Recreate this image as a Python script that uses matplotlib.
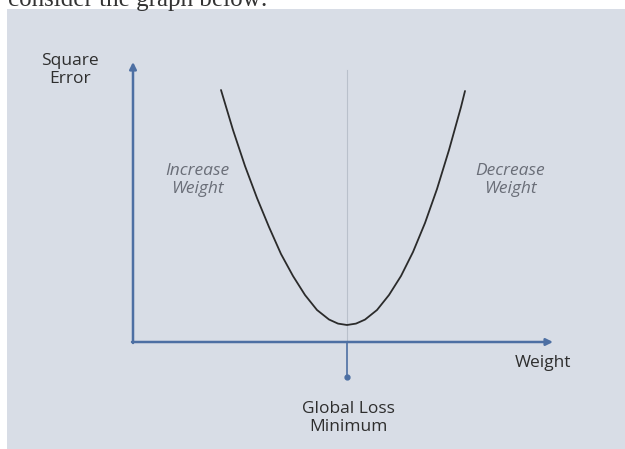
"""Square error vs weight sketch (global loss minimum)."""
import matplotlib
matplotlib.use('Agg')
import matplotlib.pyplot as plt
from matplotlib.patches import Rectangle

# curve: weight offset vs error height (pixel-like units)
weight = [88, 100, 112, 124, 136, 148, 160, 172, 184, 196, 205, 214,
          223, 232, 244, 256, 268, 280, 292, 304, 316, 328, 332]
error = [252, 212, 176, 144, 115, 88, 66, 47, 32, 22.5, 18.4, 17,
         18.4, 22.4, 32, 47, 66, 90, 119, 153, 192, 235, 251]
min_weight = 214
x_axis_end = 420
y_axis_end = 280

BLUE = '#4d6fa3'
PANEL = '#d8dde6'
TEXT = '#2e2e2e'
SIDE = '#6a6e78'

plt.rcParams['font.family'] = ['Open Sans', 'DejaVu Sans']

fig = plt.figure(figsize=(6.25, 4.49), dpi=100)
ax = fig.add_axes([0, 0, 1, 1])
ax.set_xlim(-133, 492)
ax.set_ylim(-107, 342)
ax.axis('off')

# panel
ax.add_patch(Rectangle((-126, -110), 618, 443, facecolor=PANEL, edgecolor='none', zorder=0))
ax.text(-125, 336, 'consider the graph below:', family=['Liberation Serif'],
        fontsize=18, color='#333333', ha='left', va='baseline')

# axes arrows
ax.annotate('', xy=(0, y_axis_end), xytext=(0, -1),
            arrowprops=dict(arrowstyle='-|>,head_length=0.4,head_width=0.2',
                            color=BLUE, lw=1.8, shrinkA=0, shrinkB=0))
ax.annotate('', xy=(x_axis_end, 0), xytext=(-1, 0),
            arrowprops=dict(arrowstyle='-|>,head_length=0.4,head_width=0.2',
                            color=BLUE, lw=1.8, shrinkA=0, shrinkB=0))

# minimum marker
ax.plot([min_weight, min_weight], [0, 272], color='#b9c0cb', lw=0.8, zorder=1)
ax.plot([min_weight, min_weight], [0, -35], color=BLUE, lw=1.2, zorder=2)
ax.plot(min_weight, -35, 'o', color=BLUE, ms=3.5, zorder=3)

# loss curve
ax.plot(weight, error, color='#2b2b2b', lw=1.3, zorder=4,
        solid_capstyle='round', solid_joinstyle='round')

# labels
ax.text(-63, 272, 'Square\nError', ha='center', va='center', fontsize=12.5,
        color=TEXT, linespacing=1.1)
ax.text(410, -21, 'Weight', ha='center', va='center', fontsize=12.5, color=TEXT)
ax.text(215, -76, 'Global Loss\nMinimum', ha='center', va='center', fontsize=12.5,
        color=TEXT, linespacing=1.1)
ax.text(64, 162, 'Increase\nWeight', ha='center', va='center', fontsize=12.5,
        color=SIDE, style='italic', linespacing=1.1)
ax.text(377, 162, 'Decrease\nWeight', ha='center', va='center', fontsize=12.5,
        color=SIDE, style='italic', linespacing=1.1)

fig.savefig('out.png', dpi=100)
plt.close(fig)
